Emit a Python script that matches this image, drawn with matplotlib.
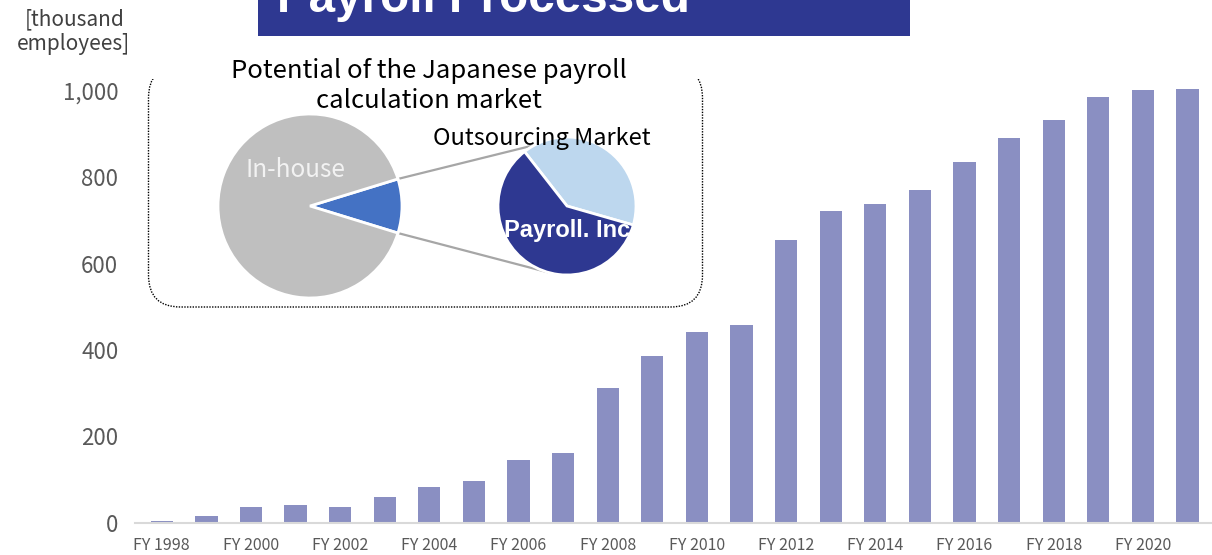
import matplotlib
matplotlib.use("Agg")
import matplotlib.pyplot as plt
import numpy as np
from matplotlib.patches import FancyBboxPatch, Rectangle

plt.rcParams['font.family'] = ['Noto Sans CJK JP', 'DejaVu Sans']

# ---- data ----
fiscal_years = list(range(1998, 2022))
employees_k = [5, 16, 37, 40, 37, 60, 83, 97, 145, 161,
               313, 387, 442, 459, 654, 722, 739, 771, 835, 890,
               933, 987, 1002, 1004]
year_labels = [f"FY {y}" if y % 2 == 0 else "" for y in fiscal_years]
y_ticks = [0, 200, 400, 600, 800, 1000]

market_labels = ["Outsourcing", "In-house"]
market_share = [9.5, 90.5]
outsourcing_labels = ["Others", "Payroll. Inc"]
outsourcing_share = [40, 60]

# ---- colours ----
BAR = "#8A8FC2"
NAVY = "#2E3891"
GREY_PIE = "#BFBFBF"
BLUE_PIE = "#4472C4"
LIGHT_PIE = "#BDD7EE"
TICK = "#595959"

W, H = 1212, 555
fig = plt.figure(figsize=(W / 100, H / 100), dpi=100)

# ---- bar chart ----
ax = fig.add_axes([135 / W, 32.3 / H, (W - 135) / W, 474.9 / H])
x = np.arange(len(fiscal_years))
ax.bar(x, employees_k, width=0.5, color=BAR, zorder=2)
ax.set_xlim(-0.6, len(fiscal_years) - 0.45)
ax.set_ylim(0, 1100)
ax.set_yticks(y_ticks)
ax.set_yticklabels([f"{v:,}" for v in y_ticks], fontsize=16, color=TICK)
ax.set_xticks(x)
ax.set_xticklabels(year_labels, fontsize=11.5, color=TICK)
ax.tick_params(axis="y", length=0, pad=12)
ax.tick_params(axis="x", length=0, pad=10)
for s in ["top", "right", "left"]:
    ax.spines[s].set_visible(False)
ax.spines["bottom"].set_color("#D9D9D9")
ax.spines["bottom"].set_linewidth(1.5)

# ---- pixel-space overlay for frame, banner and connectors ----
ov = fig.add_axes([0, 0, 1, 1], zorder=1)
ov.set_xlim(0, W)
ov.set_ylim(H, 0)
ov.axis("off")

frame = FancyBboxPatch((148.5, 66), 554, 241,
                       boxstyle="round,pad=0,rounding_size=32",
                       facecolor="white", edgecolor="black",
                       linewidth=1.0, linestyle=(0, (1, 1)))
ov.add_patch(frame)
ov.add_patch(Rectangle((140, 48), 575, 31, facecolor="white", edgecolor="none"))

ov.add_patch(Rectangle((258, -2), 652, 37.5, facecolor=NAVY, edgecolor="none"))
ov.text(277, 12, "Payroll Processed", family="Liberation Sans",
        fontweight="bold", fontsize=34.3, color="white", va="baseline", ha="left")

ov.text(429, 78, "Potential of the Japanese payroll", fontsize=18.5,
        color="black", ha="center", va="baseline")
ov.text(429, 108, "calculation market", fontsize=18.5,
        color="black", ha="center", va="baseline")

fig.text(75, 25, "[thousand", transform=ov.transData, fontsize=15,
         color="#404040", ha="center", va="baseline")
fig.text(74, 50, "employees]", transform=ov.transData, fontsize=15,
         color="#404040", ha="center", va="baseline")

# ---- pies ----
c1, r1 = (310, 206), 92
c2, r2 = (567, 206), 69


def pie_axes(center, radius):
    cx, cy = center
    return fig.add_axes([(cx - radius) / W, (H - cy - radius) / H,
                         2 * radius / W, 2 * radius / H], zorder=2)


ax1 = pie_axes(c1, r1)
half = market_share[0] / sum(market_share) * 180
ax1.pie(market_share, colors=[BLUE_PIE, GREY_PIE], startangle=-half,
        wedgeprops=dict(edgecolor="white", linewidth=2))
ax1.set_xlim(-1, 1)
ax1.set_ylim(-1, 1)
ax1.text(-0.16, 0.39, market_labels[1], fontsize=17.5, color="#F2F2F2",
         ha="center", va="center")

ax2 = pie_axes(c2, r2)
wedges2, _ = ax2.pie(outsourcing_share, colors=[LIGHT_PIE, NAVY], startangle=-16,
                     wedgeprops=dict(edgecolor="white", linewidth=2))
ax2.set_xlim(-1, 1)
ax2.set_ylim(-1, 1)
lbl = ax2.text(0, -0.36, outsourcing_labels[1], family="Liberation Sans",
               fontweight="bold", fontsize=17, color="white",
               ha="center", va="center")
lbl.set_clip_path(wedges2[1])

# connector lines from the small slice to the secondary pie
for a1, a2 in [(half, 118), (-half, 253)]:
    p1 = (c1[0] + r1 * np.cos(np.radians(a1)), c1[1] - r1 * np.sin(np.radians(a1)))
    p2 = (c2[0] + r2 * np.cos(np.radians(a2)), c2[1] - r2 * np.sin(np.radians(a2)))
    ov.plot([p1[0], p2[0]], [p1[1], p2[1]], color="#A6A6A6", linewidth=1.6)

fig.text(542, 145, "Outsourcing Market", transform=ov.transData, fontsize=17,
         color="black", ha="center", va="baseline", zorder=5)

fig.savefig("out.png", dpi=100)
